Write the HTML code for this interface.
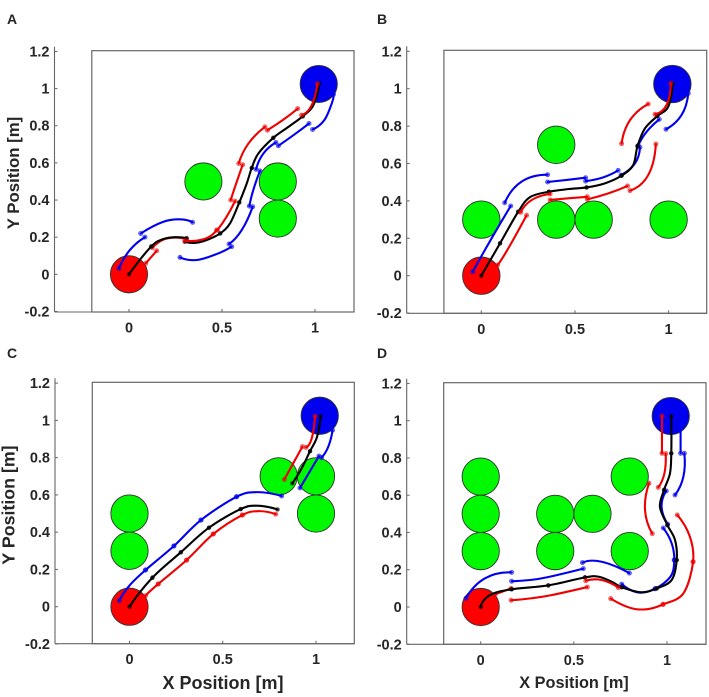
<!DOCTYPE html>
<html lang="en">
<head>
<meta charset="utf-8">
<title>Robot trajectories around obstacles</title>
<style>
  html, body { margin: 0; padding: 0; background: #fff; }
  svg { display: block; }
  text { font-family: "Liberation Sans", sans-serif; font-weight: bold; fill: #262626; }
</style>
</head>
<body>
<svg id="chart" xmlns="http://www.w3.org/2000/svg" width="709" height="697" viewBox="0 0 709 697">
  <text x="7" y="24" font-size="14">A</text>
  <text x="377" y="24" font-size="14">B</text>
  <text x="7" y="358" font-size="14">C</text>
  <text x="377" y="358" font-size="14">D</text>
  <text transform="translate(19,173) rotate(-90)" text-anchor="middle" font-size="16.8">Y Position [m]</text>
  <text transform="translate(14.5,505) rotate(-90)" text-anchor="middle" font-size="17.8">Y Position [m]</text>
  <text x="223" y="689" text-anchor="middle" font-size="18">X Position [m]</text>
  <text x="574" y="688" text-anchor="middle" font-size="16.3">X Position [m]</text>
</svg>
<script>
var xTickValues = [0, 0.5, 1];
var yTickValues = [-0.2, 0, 0.2, 0.4, 0.6, 0.8, 1, 1.2];
var startPoint = [0, 0];
var goalPoint = [1.02, 1.025];
var obstacleRadius = 0.1;

var obstaclesA = [[0.4,0.5],[0.8,0.5],[0.8,0.3]];
var obstaclesB = [[0.4,0.7],[0,0.3],[0.4,0.3],[0.6,0.3],[1,0.3]];
var obstaclesC = [[0,0.5],[0,0.3],[0.8,0.7],[1,0.7],[1,0.5]];
var obstaclesD = [[0,0.7],[0,0.5],[0,0.3],[0.4,0.5],[0.4,0.3],[0.6,0.5],[0.8,0.7],[0.8,0.3]];

var blackA = [
  [[0,0],[0.12,0.15]],
  [[0.12,0.15],[0.185,0.19],[0.247,0.2],[0.31,0.195]],
  [[0.30,0.175],[0.364,0.17],[0.427,0.188],[0.49,0.22]],
  [[0.49,0.22],[0.543,0.274],[0.593,0.387]],
  [[0.593,0.387],[0.633,0.489],[0.66,0.573]],
  [[0.66,0.573],[0.695,0.65],[0.776,0.735]],
  [[0.776,0.735],[0.857,0.794],[0.934,0.851]],
  [[0.934,0.851],[0.991,0.91],[1.022,1.027]]
];
var redUnderA = [
  [[0.125,0.143],[0.185,0.187],[0.247,0.198],[0.31,0.19]]
];
var redA = [
  [[0.09,0.059],[0.149,0.127]],
  [[0.30,0.181],[0.364,0.181],[0.427,0.199],[0.471,0.238]],
  [[0.475,0.238],[0.525,0.31],[0.57,0.394]],
  [[0.547,0.40],[0.57,0.471],[0.611,0.59]],
  [[0.59,0.597],[0.642,0.704],[0.731,0.794]],
  [[0.744,0.776],[0.83,0.833],[0.907,0.892]],
  [[0.928,0.857],[0.982,0.91],[1.013,1.027]]
];
var blueA = [
  [[-0.054,0.032],[0.005,0.131],[0.086,0.2]],
  [[0.063,0.22],[0.185,0.283],[0.274,0.296],[0.342,0.28]],
  [[0.274,0.091],[0.364,0.077],[0.471,0.109],[0.552,0.149]],
  [[0.538,0.163],[0.606,0.238],[0.665,0.364]],
  [[0.647,0.367],[0.668,0.453],[0.704,0.557]],
  [[0.683,0.565],[0.722,0.65],[0.79,0.71]],
  [[0.803,0.692],[0.884,0.749],[0.968,0.812]],
  [[0.987,0.78],[1.05,0.83],[1.09,0.92],[1.1,0.97]]
];

var blackB = [
  [[0,0],[0.1,0.173]],
  [[0.1,0.173],[0.197,0.342]],
  [[0.197,0.342],[0.26,0.42],[0.361,0.449]],
  [[0.361,0.449],[0.464,0.463],[0.562,0.472]],
  [[0.562,0.472],[0.66,0.494],[0.749,0.535]],
  [[0.749,0.535],[0.811,0.592],[0.834,0.693]],
  [[0.834,0.693],[0.874,0.788],[0.94,0.854]],
  [[0.94,0.854],[0.998,0.904],[1.02,1.029]]
];
var redUnderB = [];
var redB = [
  [[0.087,0.057],[0.144,0.146],[0.242,0.323]],
  [[0.21,0.339],[0.269,0.405],[0.367,0.437]],
  [[0.367,0.405],[0.464,0.414],[0.566,0.422]],
  [[0.566,0.408],[0.678,0.44],[0.781,0.48]],
  [[0.794,0.455],[0.891,0.538],[0.932,0.704]],
  [[0.749,0.706],[0.794,0.832],[0.891,0.918]],
  [[0.927,0.863],[0.989,0.913],[1.012,1.029]]
];
var blueB = [
  [[-0.046,0.021],[0.055,0.2],[0.157,0.373]],
  [[0.125,0.39],[0.215,0.503],[0.354,0.54]],
  [[0.354,0.501],[0.456,0.512],[0.557,0.524]],
  [[0.557,0.506],[0.651,0.526],[0.731,0.563]],
  [[0.746,0.538],[0.82,0.6],[0.847,0.686]],
  [[0.838,0.697],[0.883,0.77],[0.95,0.836]],
  [[0.986,0.783],[1.069,0.859],[1.105,0.975]]
];

var blackC = [
  [[0,0],[0.123,0.156]],
  [[0.123,0.156],[0.275,0.292]],
  [[0.275,0.292],[0.426,0.424]],
  [[0.426,0.424],[0.596,0.524]],
  [[0.596,0.524],[0.682,0.542],[0.794,0.522]],
  [[0.873,0.662],[0.923,0.742],[0.968,0.835]],
  [[0.968,0.835],[1.005,0.91],[1.025,1.023]]
];
var redUnderC = [];
var redC = [
  [[0.086,0.059],[0.154,0.122]],
  [[0.154,0.122],[0.306,0.25]],
  [[0.306,0.25],[0.449,0.39]],
  [[0.449,0.39],[0.605,0.492]],
  [[0.605,0.492],[0.69,0.513],[0.784,0.497]],
  [[0.83,0.683],[0.927,0.859]],
  [[0.946,0.855],[0.977,0.903],[0.995,1.023]]
];
var blueC = [
  [[-0.055,0.032],[0.002,0.116],[0.086,0.197]],
  [[0.086,0.197],[0.238,0.326]],
  [[0.238,0.326],[0.383,0.465]],
  [[0.383,0.465],[0.574,0.59]],
  [[0.574,0.59],[0.682,0.615],[0.816,0.594]],
  [[0.914,0.637],[1.016,0.809]],
  [[1.03,0.801],[1.066,0.859],[1.089,0.948]]
];

var blackD = [
  [[0,0],[0.05,0.064],[0.166,0.095]],
  [[0.166,0.095],[0.363,0.116]],
  [[0.363,0.116],[0.56,0.159]],
  [[0.56,0.159],[0.631,0.163],[0.703,0.136],[0.757,0.106]],
  [[0.757,0.106],[0.864,0.079],[0.945,0.1]],
  [[0.945,0.1],[1.025,0.145],[1.052,0.252]],
  [[1.052,0.252],[1.043,0.36],[1.002,0.44]],
  [[1.002,0.44],[0.962,0.538],[0.984,0.628]],
  [[0.984,0.628],[1.016,0.717],[1.023,0.825]],
  [[1.023,0.825],[1.023,1.025]]
];
var redUnderD = [
  [[0.077,0.068],[0.163,0.1]]
];
var redD = [
  [[0.163,0.036],[0.274,0.047],[0.376,0.063],[0.572,0.107]],
  [[0.564,0.141],[0.649,0.145],[0.739,0.104]],
  [[0.698,0.045],[0.81,-0.007],[0.9,-0.011],[0.979,0.014]],
  [[0.979,0.014],[1.088,0.073],[1.14,0.243]],
  [[1.14,0.243],[1.123,0.377],[1.055,0.494]],
  [[0.921,0.394],[0.882,0.52],[0.903,0.664]],
  [[0.953,0.642],[0.986,0.717],[0.993,0.823]],
  [[0.973,0.825],[0.973,1.025]]
];
var blueD = [
  [[-0.079,0.047],[0.023,0.154],[0.166,0.186]],
  [[0.166,0.138],[0.265,0.145],[0.354,0.159],[0.551,0.206]],
  [[0.546,0.238],[0.649,0.243],[0.798,0.182]],
  [[0.757,0.123],[0.846,0.078],[0.936,0.098]],
  [[0.936,0.098],[1.02,0.165],[1.039,0.252]],
  [[1.039,0.252],[1.025,0.342],[0.98,0.424]],
  [[1.004,0.444],[0.971,0.538],[0.996,0.623]],
  [[1.043,0.601],[1.088,0.7],[1.093,0.825]],
  [[1.073,0.825],[1.073,1.025]]
];

var SVG_NS = 'http://www.w3.org/2000/svg';
var svg = document.getElementById('chart');

function makeEl(tag, parent) {
  var el = document.createElementNS(SVG_NS, tag);
  parent.appendChild(el);
  return el;
}

function samePoint(a, b) {
  return a[0] === b[0] && a[1] === b[1];
}

function chainSegments(segments) {
  var chains = [];
  segments.forEach(function (seg) {
    var last = chains[chains.length - 1];
    if (last && samePoint(last[last.length - 1], seg[0])) {
      chains[chains.length - 1] = last.concat(seg.slice(1));
    } else {
      chains.push(seg.slice());
    }
  });
  return chains;
}

function curvePath(pts, xf, yf) {
  var p = pts.map(function (q) { return [xf(q[0]), yf(q[1])]; });
  var n = p.length;
  var d = 'M' + p[0][0].toFixed(2) + ' ' + p[0][1].toFixed(2);
  function extrap(a, b, c) {
    return [3 * a[0] - 3 * b[0] + c[0], 3 * a[1] - 3 * b[1] + c[1]];
  }
  for (var i = 0; i < n - 1; i++) {
    var b = p[i], c = p[i + 1];
    var a = i > 0 ? p[i - 1] : (n > 2 ? extrap(p[0], p[1], p[2]) : b);
    var e = i + 2 < n ? p[i + 2] : (n > 2 ? extrap(p[n - 1], p[n - 2], p[n - 3]) : c);
    var c1x = b[0] + (c[0] - a[0]) / 6, c1y = b[1] + (c[1] - a[1]) / 6;
    var c2x = c[0] - (e[0] - b[0]) / 6, c2y = c[1] - (e[1] - b[1]) / 6;
    d += 'C' + c1x.toFixed(2) + ' ' + c1y.toFixed(2) + ' ' + c2x.toFixed(2) + ' ' + c2y.toFixed(2) + ' ' + c[0].toFixed(2) + ' ' + c[1].toFixed(2);
  }
  return d;
}

function drawSeries(group, segments, color, xf, yf, width, markerR) {
  chainSegments(segments).forEach(function (chain) {
    var path = makeEl('path', group);
    
    
    path.setAttribute('d', curvePath(chain, xf, yf));
    path.setAttribute('fill', 'none');
    path.setAttribute('stroke', color);
    path.setAttribute('stroke-width', width);
    path.setAttribute('stroke-linecap', 'round');
  });
  segments.forEach(function (seg) {
    [seg[0], seg[seg.length - 1]].forEach(function (pt) {
      var dot = makeEl('circle', group);
      
      
      dot.setAttribute('cx', xf(pt[0]));
      dot.setAttribute('cy', yf(pt[1]));
      dot.setAttribute('r', markerR);
      dot.setAttribute('fill', color);
      dot.setAttribute('fill-opacity', '0.45');
      dot.setAttribute('stroke', color);
      dot.setAttribute('stroke-opacity', '0.6');
      dot.setAttribute('stroke-width', '0.8');
    });
  });
}

function drawDisc(group, name, pt, r, fill, xf, yf, sx, sy) {
  var disc = makeEl('ellipse', group);
  
  
  disc.setAttribute('cx', xf(pt[0]));
  disc.setAttribute('cy', yf(pt[1]));
  disc.setAttribute('rx', r * sx);
  disc.setAttribute('ry', r * sy);
  disc.setAttribute('fill', fill);
  disc.setAttribute('stroke', '#333');
  disc.setAttribute('stroke-width', '0.9');
}

function axisLine(group, name, x1, y1, x2, y2, w) {
  var line = makeEl('line', group);
  
  
  line.setAttribute('x1', x1);
  line.setAttribute('y1', y1);
  line.setAttribute('x2', x2);
  line.setAttribute('y2', y2);
  line.setAttribute('stroke', '#666');
  line.setAttribute('stroke-width', w);
}

function drawPanel(id, g, obstacles, redUnder, red, blue, black) {
  var xf = function (v) { return g.x0 + v * g.sx; };
  var yf = function (v) { return g.y0 - v * g.sy; };

  var panel = makeEl('g', svg);
  
  

  var box = makeEl('rect', panel);
  
  
  box.setAttribute('x', g.boxL);
  box.setAttribute('y', g.boxT);
  box.setAttribute('width', g.boxR - g.boxL);
  box.setAttribute('height', g.boxB - g.boxT);
  box.setAttribute('fill', '#fff');
  box.setAttribute('stroke', '#666');
  box.setAttribute('stroke-width', '1.2');

  axisLine(panel, 'y-axis-line', g.axisL, g.boxT - 4, g.axisL, g.boxB, 1.1);
  axisLine(panel, 'x-axis-line', g.axisL, g.boxB, g.boxR, g.boxB, 1.1);

  xTickValues.forEach(function (v) {
    axisLine(panel, 'x-tick', xf(v), g.boxB, xf(v), g.boxB - 3, 1);
    var label = makeEl('text', panel);
    
    
    label.setAttribute('x', xf(v));
    label.setAttribute('y', g.boxB + 20.5);
    label.setAttribute('text-anchor', 'middle');
    label.setAttribute('font-size', '14.5');
    label.textContent = String(v);
  });

  yTickValues.forEach(function (v) {
    axisLine(panel, 'y-tick', g.axisL, yf(v), g.axisL + 3, yf(v), 1);
    var label = makeEl('text', panel);
    
    
    label.setAttribute('x', g.axisL - 5);
    label.setAttribute('y', yf(v) + 5);
    label.setAttribute('text-anchor', 'end');
    label.setAttribute('font-size', '14.5');
    label.textContent = String(v);
  });

  obstacles.forEach(function (o) {
    drawDisc(panel, 'obstacle', o, obstacleRadius, '#00f800', xf, yf, g.sx, g.sy);
  });
  drawDisc(panel, 'start-point', startPoint, obstacleRadius, '#ff0000', xf, yf, g.sx, g.sy);
  drawDisc(panel, 'goal-point', goalPoint, obstacleRadius, '#0000f0', xf, yf, g.sx, g.sy);

  drawSeries(panel, redUnder, '#ee0000', xf, yf, 2.1, 2.1);
  drawSeries(panel, blue, '#0000ee', xf, yf, 2.1, 2.1);
  drawSeries(panel, black, '#000000', xf, yf, 2.1, 1.8);
  drawSeries(panel, red, '#ee0000', xf, yf, 2.1, 2.1);
}

drawPanel('a', {x0:129, sx:186, y0:274.3, sy:185.7, boxL:91.8, boxR:354, boxT:50.7, boxB:312, axisL:54.5}, obstaclesA, redUnderA, redA, blueA, blackA);
drawPanel('b', {x0:481.3, sx:187.3, y0:275.7, sy:187, boxL:443.9, boxR:706.7, boxT:50.3, boxB:313.3, axisL:406.7}, obstaclesB, redUnderB, redB, blueB, blackB);
drawPanel('c', {x0:129.5, sx:186.5, y0:606.7, sy:186.3, boxL:92.3, boxR:354.3, boxT:382.3, boxB:643.7, axisL:55}, obstaclesC, redUnderC, redC, blueC, blackC);
drawPanel('d', {x0:480.7, sx:186.3, y0:607, sy:186.3, boxL:443.7, boxR:706, boxT:382.7, boxB:644.3, axisL:406.7}, obstaclesD, redUnderD, redD, blueD, blackD);
</script>
</body>
</html>
